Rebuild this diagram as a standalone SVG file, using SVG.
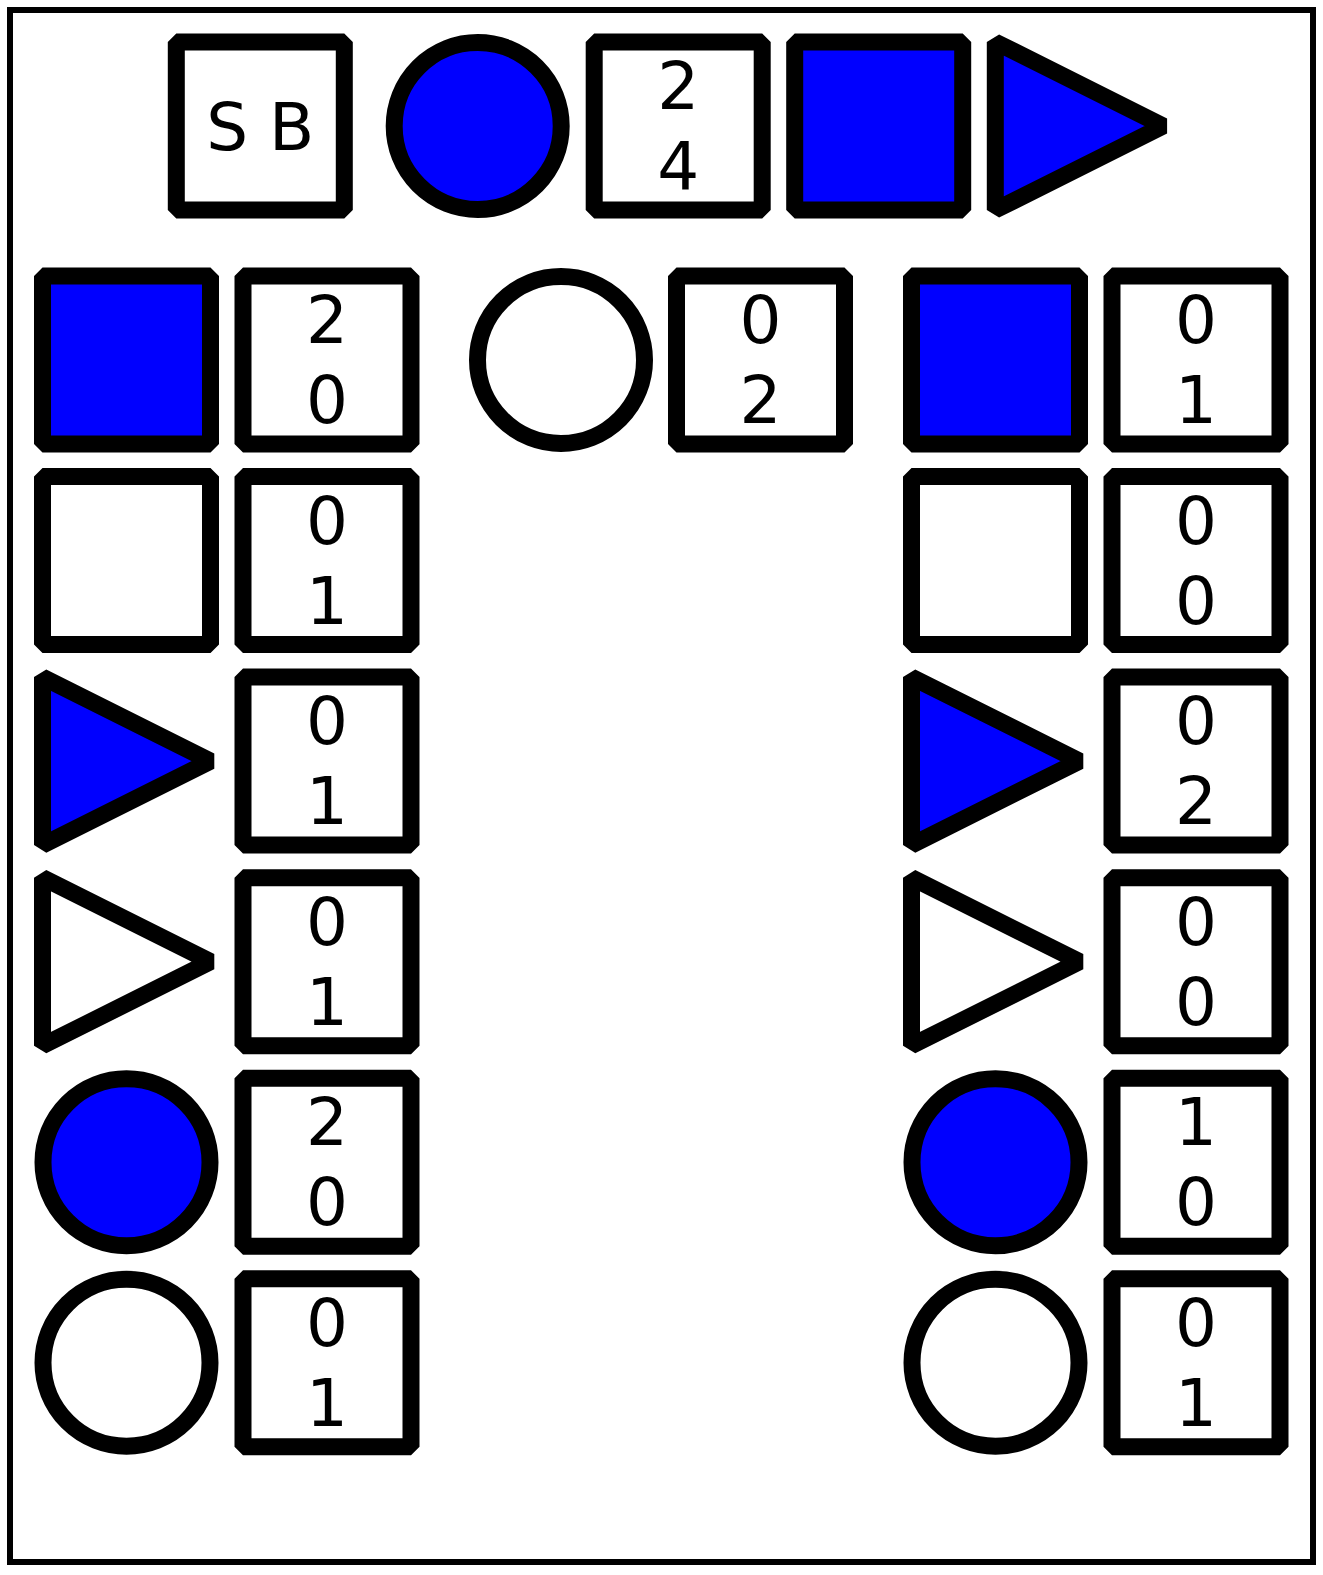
<svg xmlns="http://www.w3.org/2000/svg" width="1323" height="1575" viewBox="0 0 1323 1575">
<style>
.s{stroke:#000;stroke-width:17;stroke-linejoin:bevel}
.w{fill:#fff}
.b{fill:#0000ff}
.t{font-family:"DejaVu Sans",sans-serif;font-size:66px;fill:#000;text-anchor:middle}
</style>
<rect x="0" y="0" width="1323" height="1575" fill="#fff"/>
<rect id="frame" x="10" y="10" width="1303" height="1552" fill="#fff" stroke="#000" stroke-width="6"/>
<g id="connectors"/>
<!-- top row -->
<g id="sb"><rect class="s w" x="176.3" y="42" width="168" height="168"/><text class="t" x="260.3" y="150">S B</text></g>
<g id="top-circle"><circle class="s b" cx="477.7" cy="126" r="83.5"/></g>
<g id="top-count"><rect class="s w" x="594.2" y="42" width="168" height="168"/><text class="t"><tspan x="678.2" y="109">2</tspan><tspan x="678.2" y="189">4</tspan></text></g>
<g id="top-square"><rect class="s b" x="794.7" y="42" width="168" height="168"/></g>
<g id="top-triangle"><polygon class="s b" points="995.3,42 1163.3,126 995.3,210"/></g>
<!-- left column -->
<g id="l1"><rect class="s b" x="42.5" y="276" width="168" height="168"/></g>
<g id="l1c"><rect class="s w" x="243" y="276" width="168" height="168"/><text class="t"><tspan x="327" y="343">2</tspan><tspan x="327" y="423">0</tspan></text></g>
<g id="l2"><rect class="s w" x="42.5" y="476.6" width="168" height="168"/></g>
<g id="l2c"><rect class="s w" x="243" y="476.6" width="168" height="168"/><text class="t"><tspan x="327" y="543.6">0</tspan><tspan x="327" y="623.6">1</tspan></text></g>
<g id="l3"><polygon class="s b" points="42.5,677.1 210.5,761.1 42.5,845.1"/></g>
<g id="l3c"><rect class="s w" x="243" y="677.1" width="168" height="168"/><text class="t"><tspan x="327" y="744.1">0</tspan><tspan x="327" y="824.1">1</tspan></text></g>
<g id="l4"><polygon class="s w" points="42.5,877.7 210.5,961.7 42.5,1045.7"/></g>
<g id="l4c"><rect class="s w" x="243" y="877.7" width="168" height="168"/><text class="t"><tspan x="327" y="944.7">0</tspan><tspan x="327" y="1024.7">1</tspan></text></g>
<g id="l5"><circle class="s b" cx="126.5" cy="1162.2" r="83.5"/></g>
<g id="l5c"><rect class="s w" x="243" y="1078.2" width="168" height="168"/><text class="t"><tspan x="327" y="1145.2">2</tspan><tspan x="327" y="1225.2">0</tspan></text></g>
<g id="l6"><circle class="s w" cx="126.5" cy="1362.8" r="83.5"/></g>
<g id="l6c"><rect class="s w" x="243" y="1278.8" width="168" height="168"/><text class="t"><tspan x="327" y="1345.8">0</tspan><tspan x="327" y="1425.8">1</tspan></text></g>
<!-- middle -->
<g id="m1"><circle class="s w" cx="561" cy="360" r="83.5"/></g>
<g id="m1c"><rect class="s w" x="676.5" y="276" width="168" height="168"/><text class="t"><tspan x="760.5" y="343">0</tspan><tspan x="760.5" y="423">2</tspan></text></g>
<!-- right column -->
<g id="r1"><rect class="s b" x="911.5" y="276" width="168" height="168"/></g>
<g id="r1c"><rect class="s w" x="1112" y="276" width="168" height="168"/><text class="t"><tspan x="1196" y="343">0</tspan><tspan x="1196" y="423">1</tspan></text></g>
<g id="r2"><rect class="s w" x="911.5" y="476.6" width="168" height="168"/></g>
<g id="r2c"><rect class="s w" x="1112" y="476.6" width="168" height="168"/><text class="t"><tspan x="1196" y="543.6">0</tspan><tspan x="1196" y="623.6">0</tspan></text></g>
<g id="r3"><polygon class="s b" points="911.5,677.1 1079.5,761.1 911.5,845.1"/></g>
<g id="r3c"><rect class="s w" x="1112" y="677.1" width="168" height="168"/><text class="t"><tspan x="1196" y="744.1">0</tspan><tspan x="1196" y="824.1">2</tspan></text></g>
<g id="r4"><polygon class="s w" points="911.5,877.7 1079.5,961.7 911.5,1045.7"/></g>
<g id="r4c"><rect class="s w" x="1112" y="877.7" width="168" height="168"/><text class="t"><tspan x="1196" y="944.7">0</tspan><tspan x="1196" y="1024.7">0</tspan></text></g>
<g id="r5"><circle class="s b" cx="995.5" cy="1162.2" r="83.5"/></g>
<g id="r5c"><rect class="s w" x="1112" y="1078.2" width="168" height="168"/><text class="t"><tspan x="1196" y="1145.2">1</tspan><tspan x="1196" y="1225.2">0</tspan></text></g>
<g id="r6"><circle class="s w" cx="995.5" cy="1362.8" r="83.5"/></g>
<g id="r6c"><rect class="s w" x="1112" y="1278.8" width="168" height="168"/><text class="t"><tspan x="1196" y="1345.8">0</tspan><tspan x="1196" y="1425.8">1</tspan></text></g>
</svg>
